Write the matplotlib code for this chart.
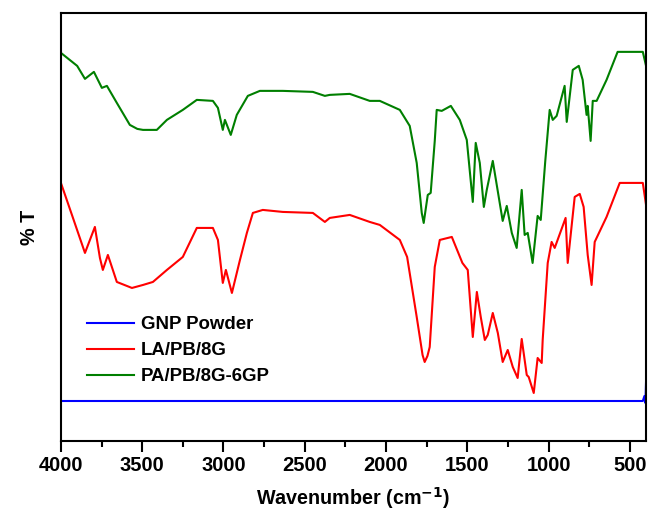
import numpy as np
import matplotlib
matplotlib.use('Agg')
import matplotlib.pyplot as plt

plt.rcParams['font.family'] = ['Liberation Sans', 'DejaVu Sans']
plt.rcParams['font.weight'] = 'bold'

# wavenumber (cm-1) and % T (arbitrary offset units)
green_wn = [4000, 3900, 3852, 3797, 3748, 3717, 3656, 3576, 3530, 3495, 3410, 3348, 3250, 3164, 3065, 3034,
            3004, 2991, 2955, 2918, 2850, 2776, 2635, 2450, 2376, 2346, 2223, 2100, 2038, 1915,
            1854, 1811, 1780, 1768, 1743, 1725, 1700, 1688, 1657, 1601, 1546, 1503, 1466, 1448, 1423,
            1398, 1380, 1343, 1282, 1257, 1226, 1196, 1165, 1147, 1128, 1098, 1067, 1048, 1020, 993,
            974, 950, 901, 888, 851, 814, 790, 766, 759, 741, 728, 704, 643, 575, 440, 420, 400]
green_t = [388, 375, 362, 369, 353, 355, 338, 316, 312, 311, 311, 321, 331, 341, 340, 333,
           311, 321, 306, 326, 345, 350, 350, 349, 345, 346, 347, 340, 340, 331,
           315, 278, 228, 218, 246, 248, 300, 331, 330, 335, 321, 301, 239, 298, 278,
           234, 251, 280, 220, 235, 208, 193, 251, 206, 208, 178, 225, 221, 280, 331,
           321, 325, 355, 319, 371, 375, 361, 326, 335, 300, 340, 340, 361, 389, 389, 389, 375]

red_wn = [4000, 3930, 3852, 3791, 3760, 3742, 3711, 3656, 3563, 3495, 3434, 3348, 3250, 3164, 3065,
          3034, 3004, 2985, 2948, 2900, 2856, 2819, 2758, 2635, 2450, 2376, 2346, 2223, 2100, 2038,
          1915, 1870, 1811, 1775, 1762, 1745, 1731, 1700, 1669, 1595, 1530, 1497, 1466, 1441, 1417, 1392,
          1374, 1343, 1312, 1282, 1251, 1220, 1190, 1165, 1134, 1122, 1091, 1067, 1042, 1036,
          1005, 981, 962, 895, 882, 839, 808, 784, 759, 735, 716, 643, 562, 440, 420, 400]
red_t = [258, 225, 188, 214, 183, 171, 186, 159, 153, 156, 159, 171, 184, 213, 213,
         201, 158, 171, 148, 180, 208, 228, 231, 229, 228, 219, 223, 226, 219, 216,
         201, 184, 124, 86, 79, 85, 94, 174, 201, 204, 178, 171, 104, 149, 124, 101,
         106, 128, 108, 79, 91, 74, 63, 102, 66, 64, 48, 83, 78, 101,
         178, 199, 193, 223, 178, 244, 247, 234, 186, 156, 199, 224, 258, 258, 258, 236]

blue_wn = [4000, 3000, 2000, 1000, 420, 410, 404, 400]
blue_t = [40, 40, 40, 40, 40, 45, 38, 60]

labels = ['GNP Powder', 'LA/PB/8G', 'PA/PB/8G-6GP']

fig = plt.figure(figsize=(6.48, 5.14), dpi=100)
ax = fig.add_axes([0.094, 0.142, 0.903, 0.833])

ax.plot(blue_wn, blue_t, color='#0000ff', lw=1.5, label=labels[0])
ax.plot(red_wn, red_t, color='#ff0000', lw=1.5, label=labels[1])
ax.plot(green_wn, green_t, color='#007f00', lw=1.5, label=labels[2])

ax.set_xlim(4000, 400)
ax.set_ylim(0, 428)
ax.set_xticks([4000, 3500, 3000, 2500, 2000, 1500, 1000, 500])
ax.set_xticks(np.arange(3750, 400, -500), minor=True)
ax.set_yticks([])
ax.tick_params(axis='x', which='major', direction='out', length=8, width=1.5,
               labelsize=14.5, pad=3)
ax.tick_params(axis='x', which='minor', direction='out', length=4.5, width=1.5)
for s in ax.spines.values():
    s.set_linewidth(1.5)

ax.set_xlabel('Wavenumber (cm$^{\\mathbf{-1}}$)', fontsize=14.2, fontweight='bold', labelpad=7)
ax.set_ylabel('% T', fontsize=14.2, fontweight='bold', labelpad=16)

leg = ax.legend(loc='upper left', bbox_to_anchor=(0.0166, 0.33), frameon=False,
                fontsize=13.4, handlelength=2.5, handletextpad=0.38, labelspacing=0.47)

fig.savefig('out.png', dpi=100)
